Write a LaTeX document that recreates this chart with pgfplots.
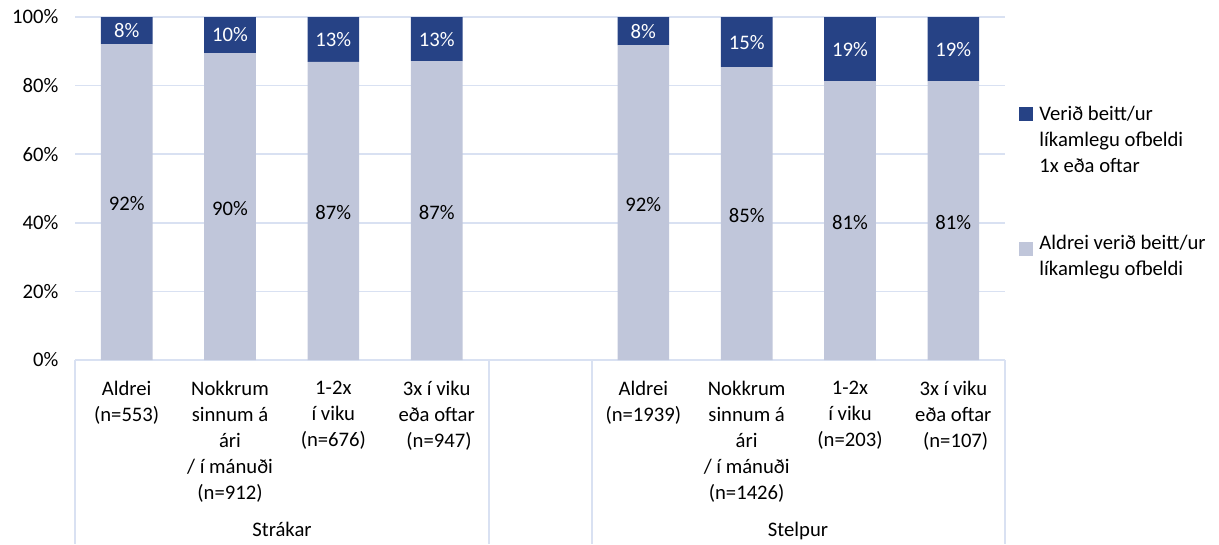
\documentclass[border=0pt]{standalone}
\usepackage{pgfplots}
\pgfplotsset{compat=1.18}
\usepackage{fontspec}
\setmainfont{Carlito}
\definecolor{darkblue}{HTML}{264285}
\definecolor{lightgrey}{HTML}{C0C6DA}
\definecolor{gridc}{HTML}{D9E1F2}
\begin{document}
\begin{tikzpicture}[x=0.75pt,y=0.75pt]
\useasboundingbox (0,0) rectangle (1219,544);
\pgfplotsset{
 base/.style={
  at={(56.25pt,138pt)}, anchor=south west,
  scale only axis, width=697.5pt, height=257.25pt,
  xmin=-0.5, xmax=8.5, ymin=0, ymax=100,
  axis line style={draw=none},
  tick style={draw=none},
  font=\fontsize{15.5}{19.5}\selectfont,
 }
}
\begin{axis}[base, ybar stacked, bar width=0.5,
  ytick={0,20,40,60,80,100}, yticklabels={0\%,20\%,40\%,60\%,80\%,100\%},
  ymajorgrids, grid style={gridc, line width=1.1pt},
  xtick={0,1,2,3,5,6,7,8},
  xticklabels={{Aldrei\\(n=553)},{Nokkrum\\sinnum á\\ári\\/ í mánuði\\(n=912)},{1-2x\\í viku\\(n=676)},{3x í viku\\eða oftar\\\ (n=947)},
               {Aldrei\\(n=1939)},{Nokkrum\\sinnum á\\ári\\/ í mánuði\\(n=1426)},{1-2x\\í viku\\(n=203)},{3x í viku\\eða oftar\\\ (n=107)}},
  xticklabel style={align=center, anchor=north, yshift=-12.5pt},
  yticklabel style={xshift=-9pt},
  legend style={at={(axis description cs:1.015,0.746)}, anchor=north west, draw=none, fill=none,
    inner sep=0pt, row sep=44pt, font=\fontsize{15.5}{19.5}\selectfont,
    nodes={align=left, inner sep=1pt}},
  legend cell align=left,
  legend image code/.code={\path[draw=none,fill=none] (0pt,0pt) -- (14pt,0pt); \fill[#1] (0pt,-1.25pt) rectangle (9.75pt,8.5pt);},
]
\addlegendimage{darkblue, yshift=15.75pt}
\addlegendentry{Verið beitt/ur\\líkamlegu ofbeldi\\1x eða oftar}
\addlegendimage{lightgrey, yshift=2.5pt}
\addlegendentry{Aldrei verið beitt/ur\\líkamlegu ofbeldi}
\addplot[fill=lightgrey, draw=none, forget plot] coordinates {
 (0,92.1) (1,89.5) (2,86.9) (3,87.1) (5,91.8) (6,85.4) (7,81.3) (8,81.3)};
\addplot[fill=darkblue, draw=none, forget plot] coordinates {
 (0,7.9) (1,10.5) (2,13.1) (3,12.9) (5,8.2) (6,14.6) (7,18.7) (8,18.7)};
\end{axis}
\begin{axis}[base, xtick=\empty, ytick=\empty,
  nodes near coords, point meta=explicit symbolic,
  every node near coord/.append style={anchor=center, font=\fontsize{15.5}{19.5}\selectfont}]
\addplot[draw=none, mark=none, nodes near coords={\pgfplotspointmeta\%}] coordinates {
 (0,45.5)[92] (1,44.2)[90] (2,42.9)[87] (3,43.0)[87] (5,45.3)[92] (6,42.1)[85] (7,40.1)[81] (8,40.1)[81]};
\addplot[draw=none, mark=none, nodes near coords={\pgfplotspointmeta\%},
  every node near coord/.append style={text=white}] coordinates {
 (0,96.05)[8] (1,94.75)[10] (2,93.45)[13] (3,93.55)[13] (5,95.9)[8] (6,92.7)[15] (7,90.65)[19] (8,90.65)[19]};
\end{axis}
\draw[gridc, line width=1.1pt] (75,184) -- (75,0);
\draw[gridc, line width=1.1pt] (489,184) -- (489,0);
\draw[gridc, line width=1.1pt] (592,184) -- (592,0);
\draw[gridc, line width=1.1pt] (1005,184) -- (1005,0);
\node[font=\fontsize{15.5}{19.5}\selectfont, anchor=base] at (282,8) {Strákar};
\node[font=\fontsize{15.5}{19.5}\selectfont, anchor=base] at (798,8) {Stelpur};
\end{tikzpicture}
\end{document}
